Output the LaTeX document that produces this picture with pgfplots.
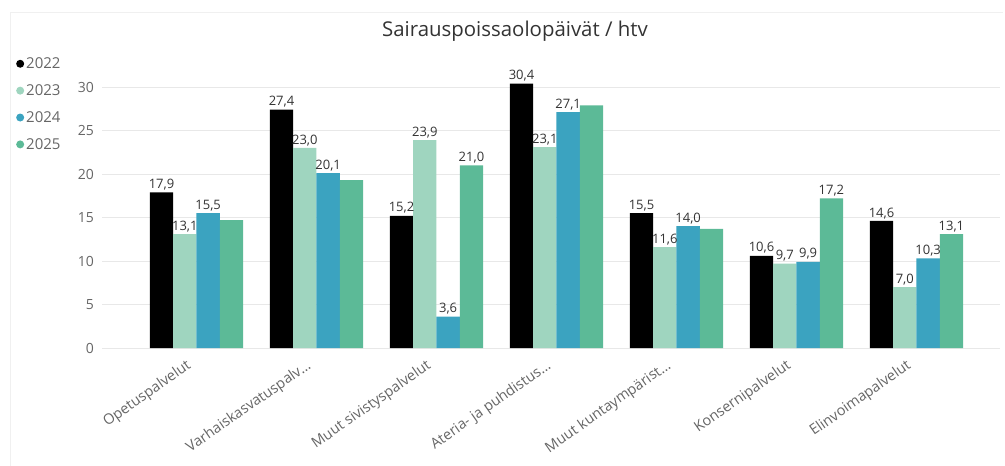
\documentclass[border=0pt]{standalone}
\usepackage{pgfplots}
\pgfplotsset{compat=1.18}
\usepackage{fontspec}
\setmainfont{Open Sans}
\definecolor{cA}{HTML}{000000}
\definecolor{cB}{HTML}{9FD5BF}
\definecolor{cC}{HTML}{3BA3C0}
\definecolor{cD}{HTML}{5CBA97}
\definecolor{tickgray}{HTML}{666666}
\definecolor{labgray}{HTML}{333333}
\pgfplotsset{dotlegend/.style={legend image code/.code={\fill[##1] (4pt,0pt) circle (4pt);}}}
\begin{document}
\begin{tikzpicture}
\path[use as bounding box] (0pt,0pt) rectangle (1005pt,-466pt);
\draw[black!6, line width=1pt] (10pt,-466pt) -- (10pt,-12pt) -- (1003pt,-12pt);
\node[font=\fontsize{20.4}{24}\selectfont, text=labgray] at (515pt,-31pt) {Sairauspoissaolopäivät / htv};
\begin{axis}[
  at={(102pt,-348pt)}, anchor=south west,
  scale only axis, width=898pt, height=269.7pt,
  ymin=0, ymax=31, enlarge y limits=false,
  xmin=-0.7875, xmax=6.696,
  ybar=0pt, bar width=23.3pt,
  ytick={0,5,...,30},
  xtick={0,...,6},
  xticklabels={{Opetuspalvelut}, {Varhaiskasvatuspalv\ldots}, {Muut sivistyspalvelut}, {Ateria- ja puhdistus\ldots}, {Muut kuntaympärist\ldots}, {Konsernipalvelut}, {Elinvoimapalvelut}},
  ymajorgrids, grid style={color=black!9, line width=0.8pt},
  axis line style={draw=none},
  major tick length=0pt,
  tick label style={font=\fontsize{14}{16}\selectfont, text=tickgray},
  x tick label style={font=\fontsize{14.5}{16}\selectfont, rotate=35, anchor=north east, inner sep=0pt, xshift=-15pt, yshift=-2pt},
  yticklabel style={anchor=east, inner sep=0pt, xshift=-8pt},
  /pgf/number format/assume math mode=true,
  nodes near coords,
  point meta=explicit symbolic,
  every node near coord/.append style={font=\fontsize{13}{15}\selectfont, text=labgray, inner sep=2pt},
  legend style={at={(-0.0958,1.085)}, anchor=north west, draw=none, fill=none,
    font=\fontsize{15}{17}\selectfont, text=tickgray, row sep=10.5pt, inner sep=0pt,
    legend cell align=left},
  clip=false,
]
\addplot[fill=cA, draw=none, dotlegend] coordinates {(0,17.9)[17,9] (1,27.4)[27,4] (2,15.2)[15,2] (3,30.4)[30,4] (4,15.5)[15,5] (5,10.6)[10,6] (6,14.6)[14,6]};
\addplot[fill=cB, draw=none, dotlegend] coordinates {(0,13.1)[13,1] (1,23.0)[23,0] (2,23.9)[23,9] (3,23.1)[23,1] (4,11.6)[11,6] (5,9.7)[9,7] (6,7.0)[7,0]};
\addplot[fill=cC, draw=none, dotlegend] coordinates {(0,15.5)[15,5] (1,20.1)[20,1] (2,3.6)[3,6] (3,27.1)[27,1] (4,14.0)[14,0] (5,9.9)[9,9] (6,10.3)[10,3]};
\addplot[fill=cD, draw=none, dotlegend] coordinates {(0,14.7)[] (1,19.3)[] (2,21.0)[21,0] (3,27.9)[] (4,13.7)[] (5,17.2)[17,2] (6,13.1)[13,1]};
\legend{2022,2023,2024,2025}
\end{axis}
\end{tikzpicture}
\end{document}
